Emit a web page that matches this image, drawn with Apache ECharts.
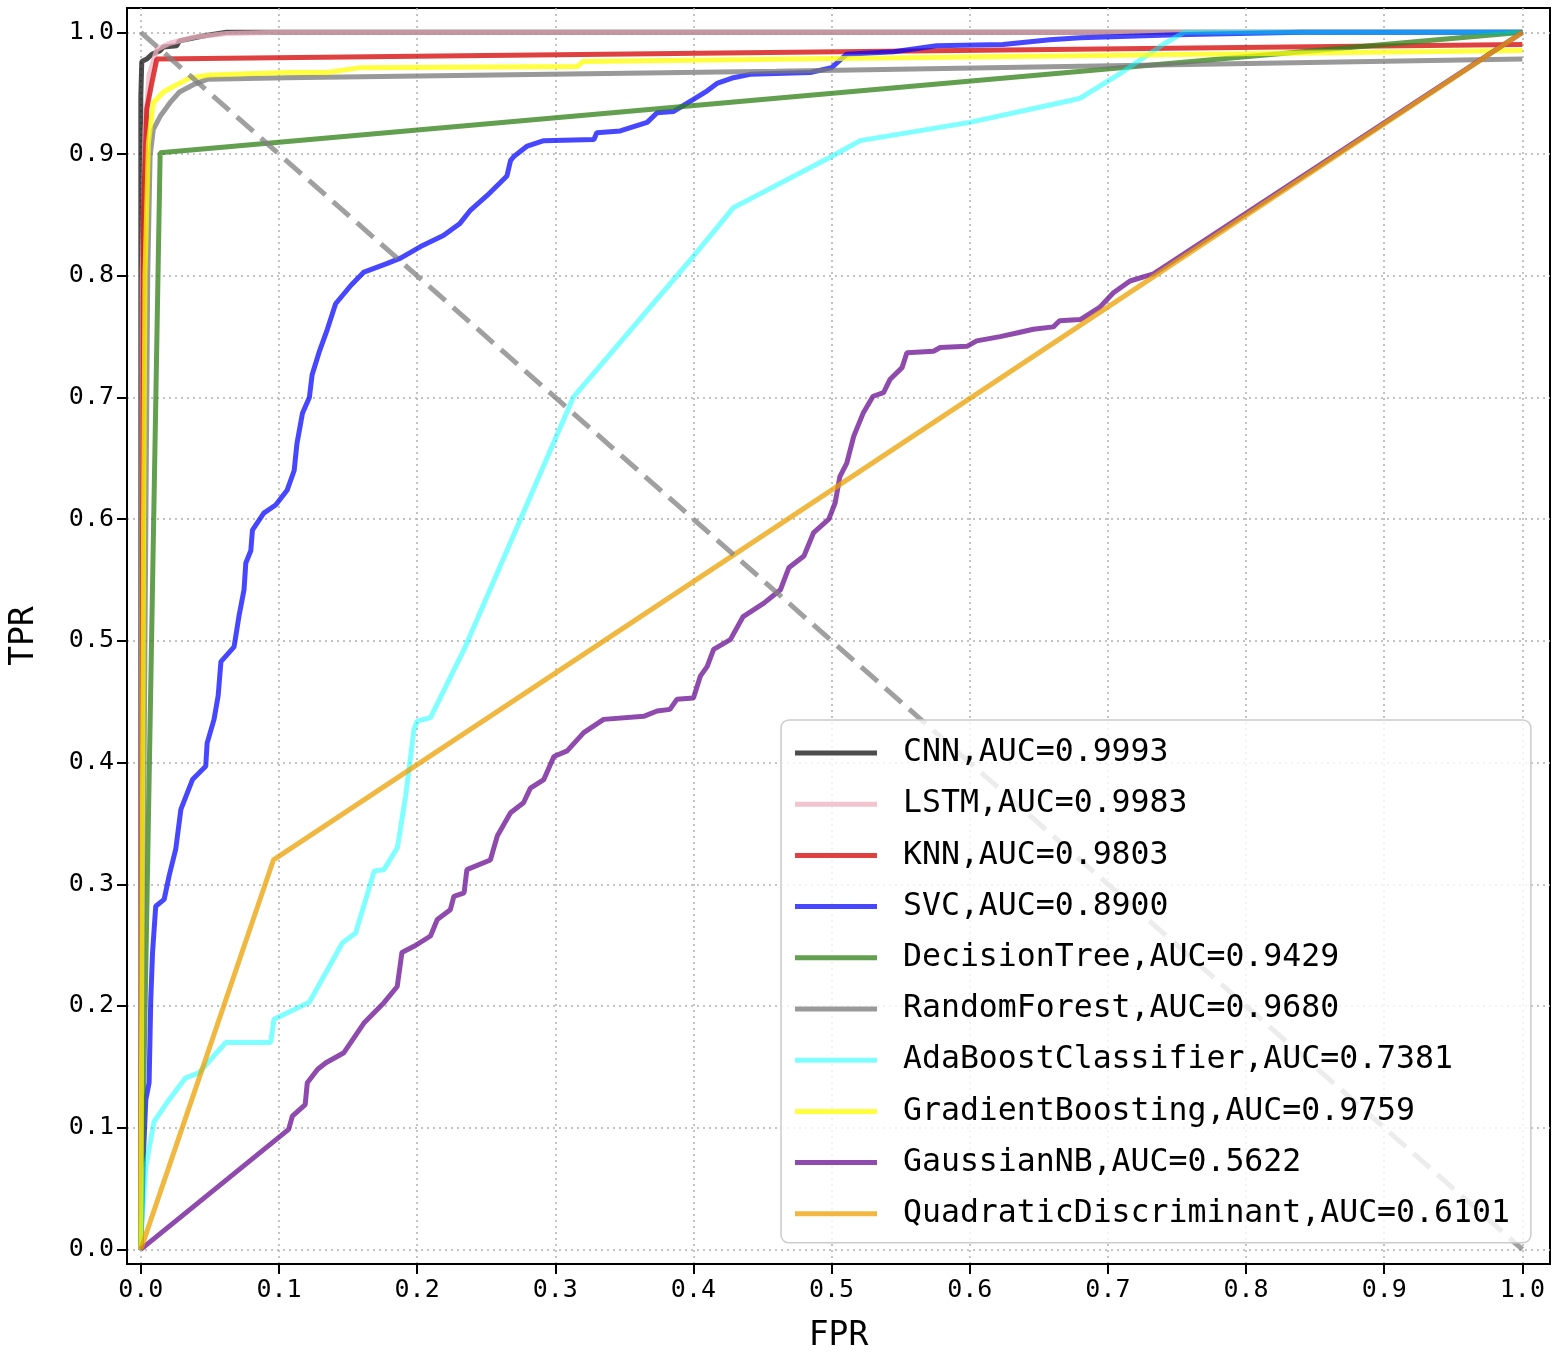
<!DOCTYPE html>
<html>
<head>
<meta charset="utf-8">
<script src="https://cdn.jsdelivr.net/npm/echarts@6/dist/echarts.min.js"></script>
<style>
  html, body { margin: 0; padding: 0; background: #fff; }
  #roc { width: 1559px; height: 1363px; }
</style>
</head>
<body>
<div id="roc"></div>
<script>
// model names and AUC shown in the legend
var modelNames = ['CNN', 'LSTM', 'KNN', 'SVC', 'DecisionTree', 'RandomForest',
    'AdaBoostClassifier', 'GradientBoosting', 'GaussianNB', 'QuadraticDiscriminant'];
var aucValues = ['0.9993', '0.9983', '0.9803', '0.8900', '0.9429', '0.9680',
    '0.7381', '0.9759', '0.5622', '0.6101'];

// ROC points [fpr, tpr]
var cnnPoints = [[0, 0], [0, 0.73], [0, 0.948], [0.0007, 0.976], [0.0043, 0.978], [0.008, 0.982],
    [0.014, 0.985], [0.0164, 0.988], [0.026, 0.989], [0.028, 0.993], [0.045, 0.997],
    [0.062, 1.0], [0.09, 1.0], [1, 1]];
var lstmPoints = [[0, 0], [0.001, 0.8], [0.003, 0.92], [0.006, 0.965], [0.0116, 0.986],
    [0.021, 0.991], [0.038, 0.996], [0.062, 0.999], [0.1, 1], [1, 1]];
var knnPoints = [[0, 0], [0.002, 0.855], [0.0043, 0.937], [0.008, 0.9586], [0.0116, 0.978], [1, 0.99]];
var svcPoints = [[0, 0], [0.002, 0.08], [0.0036, 0.123], [0.006, 0.137], [0.0072, 0.205],
    [0.0085, 0.244], [0.0108, 0.282], [0.0169, 0.2876], [0.0205, 0.307], [0.0253, 0.329],
    [0.029, 0.3615], [0.0374, 0.386], [0.047, 0.397], [0.048, 0.416], [0.053, 0.4355],
    [0.056, 0.455], [0.058, 0.483], [0.0675, 0.495], [0.071, 0.52], [0.0747, 0.542],
    [0.076, 0.564], [0.0796, 0.574], [0.0808, 0.591], [0.089, 0.605], [0.0976, 0.6116],
    [0.106, 0.624], [0.111, 0.64], [0.113, 0.662], [0.117, 0.687], [0.122, 0.7],
    [0.124, 0.7186], [0.129, 0.737], [0.135, 0.756], [0.141, 0.777], [0.152, 0.792],
    [0.1615, 0.803], [0.178, 0.81], [0.188, 0.8145], [0.2025, 0.824], [0.219, 0.833],
    [0.231, 0.843], [0.2387, 0.854], [0.2507, 0.866], [0.265, 0.882], [0.2676, 0.8946],
    [0.27, 0.898], [0.2797, 0.9066], [0.2917, 0.911], [0.328, 0.912], [0.33, 0.9175],
    [0.347, 0.919], [0.3665, 0.926], [0.3737, 0.934], [0.3857, 0.935], [0.4, 0.945],
    [0.41, 0.952], [0.417, 0.958], [0.429, 0.9627], [0.441, 0.9655], [0.4846, 0.967],
    [0.5, 0.971], [0.511, 0.982], [0.545, 0.984], [0.576, 0.989], [0.624, 0.99],
    [0.658, 0.994], [0.68, 0.9955], [0.75, 0.998], [0.84, 1.0], [1, 1]];
var treePoints = [[0, 0], [0.014, 0.901], [1, 1]];
var forestPoints = [[0, 0], [0.003, 0.5], [0.005, 0.8], [0.0067, 0.898], [0.009, 0.92],
    [0.014, 0.931], [0.021, 0.942], [0.028, 0.951], [0.038, 0.957], [0.048, 0.9614],
    [0.1056, 0.9626], [0.46, 0.968], [1, 0.978]];
var adaPoints = [[0, 0], [0.001, 0.025], [0.0036, 0.068], [0.0096, 0.105], [0.0205, 0.123],
    [0.0325, 0.141], [0.042, 0.145], [0.0615, 0.17], [0.094, 0.17], [0.0964, 0.189],
    [0.122, 0.203], [0.146, 0.252], [0.1555, 0.26], [0.169, 0.311], [0.176, 0.312],
    [0.1857, 0.33], [0.1917, 0.3725], [0.1977, 0.427], [0.2, 0.434], [0.2097, 0.437],
    [0.234, 0.493], [0.313, 0.7], [0.4, 0.816], [0.429, 0.856], [0.5, 0.898],
    [0.5207, 0.911], [0.6, 0.926], [0.673, 0.944], [0.68, 0.946], [0.69, 0.953],
    [0.71, 0.967], [0.74, 0.99], [0.755, 1.0], [1, 1]];
var boostPoints = [[0, 0], [0.002, 0.6], [0.003, 0.8], [0.0055, 0.909], [0.009, 0.942],
    [0.0164, 0.951], [0.026, 0.957], [0.0357, 0.9626], [0.05, 0.965], [0.1056, 0.967],
    [0.135, 0.967], [0.159, 0.971], [0.316, 0.972], [0.32, 0.976], [1, 0.985]];
var gaussPoints = [[0, 0], [0.107, 0.0986], [0.1097, 0.1095], [0.119, 0.119], [0.1205, 0.137],
    [0.128, 0.148], [0.134, 0.1534], [0.147, 0.1616], [0.1615, 0.186], [0.176, 0.2027],
    [0.1856, 0.216], [0.189, 0.244], [0.1977, 0.249], [0.2097, 0.2575], [0.2146, 0.271],
    [0.224, 0.279], [0.2266, 0.29], [0.234, 0.293], [0.236, 0.312], [0.253, 0.32],
    [0.258, 0.3396], [0.2676, 0.3588], [0.277, 0.367], [0.282, 0.379], [0.2917, 0.386],
    [0.299, 0.405], [0.3086, 0.4096], [0.3206, 0.4246], [0.335, 0.4355], [0.364, 0.438],
    [0.3737, 0.4424], [0.383, 0.4437], [0.388, 0.452], [0.4, 0.453], [0.405, 0.471],
    [0.41, 0.479], [0.4146, 0.493], [0.4267, 0.501], [0.436, 0.52], [0.451, 0.531],
    [0.463, 0.542], [0.469, 0.56], [0.48, 0.5697], [0.487, 0.589], [0.498, 0.6],
    [0.5026, 0.6135], [0.506, 0.635], [0.511, 0.646], [0.516, 0.668], [0.523, 0.6875],
    [0.53, 0.701], [0.5376, 0.704], [0.5424, 0.715], [0.551, 0.7245], [0.5545, 0.7367],
    [0.5738, 0.738], [0.5786, 0.741], [0.598, 0.742], [0.605, 0.7465], [0.622, 0.75],
    [0.634, 0.753], [0.646, 0.756], [0.6605, 0.758], [0.665, 0.763], [0.68, 0.764],
    [0.694, 0.774], [0.704, 0.786], [0.716, 0.7957], [0.733, 0.8015], [1, 1]];
var quadPoints = [[0, 0], [0.096, 0.32], [1, 1]];
var chancePoints = [[0, 1], [1, 0]];

var tickValues = [0, 0.1, 0.2, 0.3, 0.4, 0.5, 0.6, 0.7, 0.8, 0.9, 1.0];

// base colour drawn with opacity, and the flat colour used for the legend swatch
var lineColors = ['#000000', '#eeb0bf', '#d40000', '#0000ff', '#2d7f14', '#777777',
    '#00ffff', '#ffff00', '#6a0d91', '#eba000'];
var legendColors = ['#4d4d4d', '#f2c4cf', '#df4040', '#4747ff', '#629f4f', '#999999',
    '#80ffff', '#ffff40', '#8f4aad', '#f0b840'];
var lineOpacity = [0.7, 0.75, 0.75, 0.72, 0.75, 0.75, 0.5, 0.75, 0.75, 0.75];

var allPoints = [cnnPoints, lstmPoints, knnPoints, svcPoints, treePoints, forestPoints,
    adaPoints, boostPoints, gaussPoints, quadPoints];

var monoFont = '"DejaVu Sans Mono", "Liberation Mono", monospace';

var myChart = echarts.init(document.getElementById('roc'));

var series = [];
var legendData = [];
modelNames.forEach(function (name, i) {
    var label = name + ',AUC=' + aucValues[i];
    series.push({
        name: label,
        type: 'line',
        data: allPoints[i],
        showSymbol: false,
        symbol: 'none',
        silent: true,
        itemStyle: {color: legendColors[i]},
        lineStyle: {color: lineColors[i], width: 5, opacity: lineOpacity[i]},
        z: 2 + i * 0.01
    });
    legendData.push({name: label, itemStyle: {color: legendColors[i], opacity: 1}});
});

// chance line, dashed
series.push({
    name: 'chance',
    type: 'line',
    data: chancePoints,
    showSymbol: false,
    symbol: 'none',
    silent: true,
    lineStyle: {color: '#808080', width: 5, opacity: 0.75, type: [22, 10]},
    z: 3
});

var option = {
    animation: false,
    backgroundColor: '#fff',
    grid: {
        left: 126, top: 8, right: 9, bottom: 99,
        show: true, borderColor: '#000', borderWidth: 2
    },
    xAxis: {
        type: 'value',
        min: -0.01, max: 1.02,
        name: 'FPR',
        nameLocation: 'middle',
        nameGap: 56,
        nameTextStyle: {fontFamily: monoFont, fontSize: 33, color: '#000'},
        axisLine: {show: true, onZero: false, lineStyle: {color: '#000', width: 2}},
        axisTick: {show: true, length: 10, customValues: tickValues, lineStyle: {color: '#000', width: 2}},
        axisLabel: {
            customValues: tickValues, margin: 14, color: '#000',
            fontFamily: monoFont, fontSize: 25,
            formatter: function (v) { return v.toFixed(1); }
        },
        splitLine: {show: true, customValues: tickValues, lineStyle: {color: '#b0b0b0', width: 1.5, type: [2, 4]}}
    },
    yAxis: {
        type: 'value',
        min: -0.012, max: 1.02,
        name: 'TPR',
        nameLocation: 'middle',
        nameGap: 86,
        nameRotate: 90,
        nameTextStyle: {fontFamily: monoFont, fontSize: 33, color: '#000'},
        axisLine: {show: true, onZero: false, lineStyle: {color: '#000', width: 2}},
        axisTick: {show: true, length: 10, customValues: tickValues, lineStyle: {color: '#000', width: 2}},
        axisLabel: {
            customValues: tickValues, margin: 13, color: '#000',
            fontFamily: monoFont, fontSize: 25,
            formatter: function (v) { return v.toFixed(1); }
        },
        splitLine: {show: true, customValues: tickValues, lineStyle: {color: '#b0b0b0', width: 1.5, type: [2, 4]}}
    },
    legend: {
        data: legendData,
        orient: 'vertical',
        left: 781,
        top: 720,
        icon: 'rect',
        itemWidth: 82,
        itemHeight: 5,
        itemGap: 15.2,
        padding: [15, 21, 11, 14],
        backgroundColor: 'rgba(255,255,255,0.8)',
        borderColor: '#cccccc',
        borderWidth: 1.5,
        borderRadius: 8,
        selectedMode: false,
        textStyle: {
            fontFamily: monoFont, fontSize: 31.5, color: '#000',
            lineHeight: 36, padding: [0, 0, 0, 21]
        }
    },
    series: series
};

myChart.setOption(option);
</script>
</body>
</html>
